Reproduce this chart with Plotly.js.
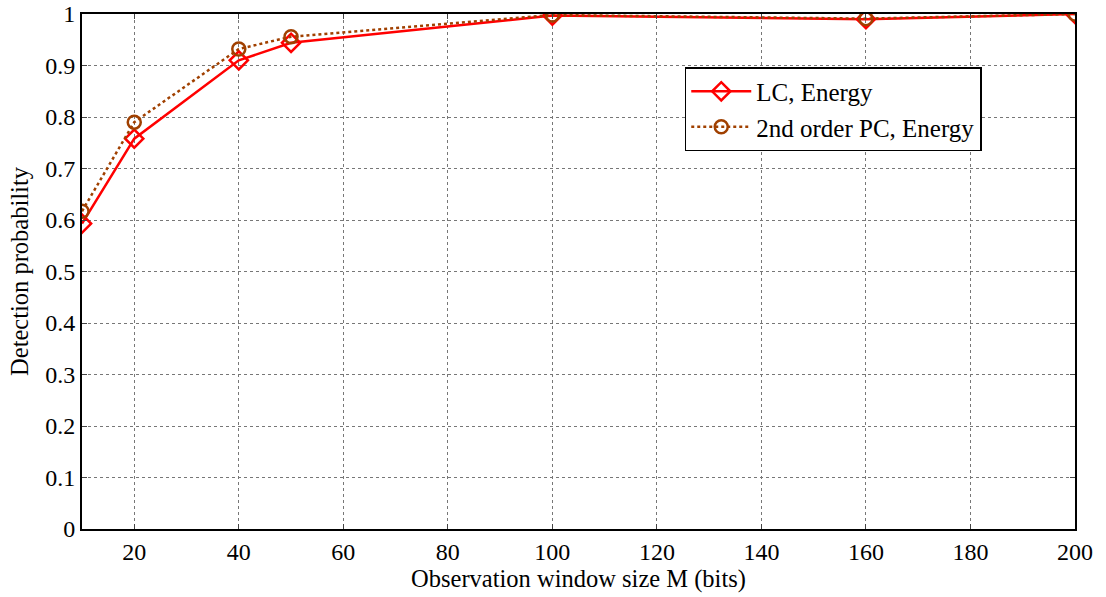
<!DOCTYPE html>
<html><head><meta charset="utf-8">
<script src="https://cdn.plot.ly/plotly-3.0.1.min.js"></script>
<style>body{margin:0;background:#fff}#chart{width:1106px;height:597px}</style>
</head><body><div id="chart"></div>
<script>
const windowSize = [10, 20, 40, 50, 100, 160, 200];
const lcEnergy = [0.593, 0.758, 0.910, 0.944, 0.997, 0.990, 1.0];
const pcEnergy = [0.617, 0.790, 0.932, 0.956, 0.998, 0.991, 1.0];
const xTicks = [20, 40, 60, 80, 100, 120, 140, 160, 180, 200];
const yTicks = [0, 0.1, 0.2, 0.3, 0.4, 0.5, 0.6, 0.7, 0.8, 0.9, 1];
const yTickText = ['0','0.1','0.2','0.3','0.4','0.5','0.6','0.7','0.8','0.9','1'];

const traces = [
  {x: windowSize, y: lcEnergy, name: 'LC, Energy', mode: 'lines+markers',
   line: {color: '#ff0000', width: 2.5},
   marker: {symbol: 'diamond-open', size: 14, color: '#ff0000', line: {width: 2.5}}},
  {x: windowSize, y: pcEnergy, name: '2nd order PC, Energy', mode: 'lines+markers',
   line: {color: '#a04000', width: 2.5, dash: 'dot'},
   marker: {symbol: 'circle-open', size: 13, color: '#a04000', line: {width: 2.5}}}
];
const family = '"Liberation Serif", "Times New Roman", serif';
const font = {family: family, size: 24, color: '#000'};
const titleFont = {family: family, size: 24.5, color: '#000'};
const layout = {
  width: 1106, height: 597,
  margin: {l: 82, r: 31, t: 14, b: 68},
  paper_bgcolor: '#fff', plot_bgcolor: '#fff',
  font: font,
  showlegend: true,
  legend: {x: 0.607, y: 0.897, xanchor: 'left', yanchor: 'top',
    bgcolor: '#fff', bordercolor: '#000', borderwidth: 1.5,
    font: {family: family, size: 25, color: '#000'}, tracegroupgap: 0, itemwidth: 60},
  xaxis: {range: [10, 200], tickvals: xTicks, ticks: 'inside', ticklen: 5,
    showline: true, linecolor: '#000', linewidth: 2, mirror: 'ticks',
    showgrid: true, gridcolor: '#777', griddash: 'dot', gridwidth: 1,
    zeroline: false, tickfont: font, ticklabeloverflow: 'allow',
    title: {text: 'Observation window size M (bits)', font: titleFont, standoff: 3}},
  yaxis: {range: [0, 1], tickvals: yTicks, ticktext: yTickText, ticks: 'inside', ticklen: 5,
    showline: true, linecolor: '#000', linewidth: 2, mirror: 'ticks',
    showgrid: true, gridcolor: '#777', griddash: 'dot', gridwidth: 1,
    zeroline: false, tickfont: font, ticklabeloverflow: 'allow',
    title: {text: 'Detection probability', font: titleFont, standoff: 10}}
};
Plotly.newPlot('chart', traces, layout, {displayModeBar: false, staticPlot: true});
</script></body></html>
